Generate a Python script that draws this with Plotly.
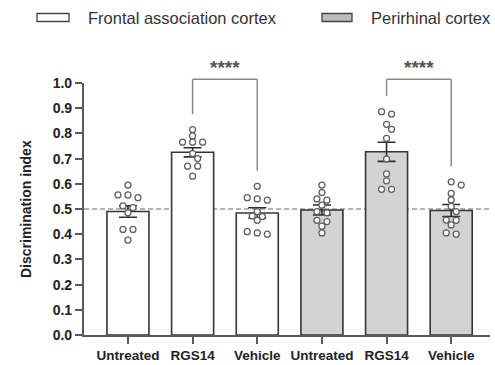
import plotly.graph_objects as go

# ---------------- data ----------------
categories = ["Untreated", "RGS14", "Vehicle"]
region_names = ["Frontal association cortex", "Perirhinal cortex"]

fac_untreated = [0.595, 0.556, 0.556, 0.545, 0.512, 0.505, 0.485, 0.419, 0.419, 0.377]
fac_rgs14 = [0.815, 0.790, 0.765, 0.765, 0.765, 0.720, 0.700, 0.670, 0.670, 0.630]
fac_vehicle = [0.590, 0.545, 0.540, 0.535, 0.490, 0.472, 0.470, 0.455, 0.410, 0.405, 0.400]

prh_untreated = [0.595, 0.565, 0.540, 0.535, 0.515, 0.490, 0.485, 0.455, 0.450, 0.432, 0.405]
prh_rgs14 = [0.886, 0.877, 0.836, 0.816, 0.780, 0.698, 0.639, 0.612, 0.578, 0.578]
prh_vehicle = [0.608, 0.595, 0.562, 0.536, 0.510, 0.490, 0.456, 0.455, 0.437, 0.405, 0.400]

fac_means = [0.490, 0.725, 0.484]
fac_sem = [0.023, 0.018, 0.021]
prh_means = [0.496, 0.727, 0.494]
prh_sem = [0.020, 0.038, 0.024]

chance_level = 0.5
y_ticks = [0.0, 0.1, 0.2, 0.3, 0.4, 0.5, 0.6, 0.7, 0.8, 0.9, 1.0]
tick_labels = categories + categories
sig_label = "****"

# ---------------- layout constants ----------------
W, H = 495, 365
ML, MR, MT, MB = 84, 5, 83, 30
PLOT_W = W - ML - MR
PLOT_H = H - MT - MB
X_RANGE = [-0.68, 5.6]
Y_RANGE = [0.0, 1.0]
px_per_x = PLOT_W / (X_RANGE[1] - X_RANGE[0])
px_per_y = PLOT_H / (Y_RANGE[1] - Y_RANGE[0])

AXIS_COLOR = "#5a5a5a"
BAR_LINE = "#353535"
GRAY_FILL = "#d3d3d3"
FONT = "Liberation Sans, Arial, sans-serif"


def x_to_paper(x):
    return (x - X_RANGE[0]) / (X_RANGE[1] - X_RANGE[0])


def y_to_paper(y):
    return (y - Y_RANGE[0]) / (Y_RANGE[1] - Y_RANGE[0])


def swarm(vals, center, step=0.155, tol=0.013, diam=6.0):
    """Simple GraphPad-like scatter placement of points around a center."""
    order = sorted(vals, reverse=True)
    rows = []
    for v in order:
        if rows and rows[-1][0] - v <= tol:
            rows[-1].append(v)
        else:
            rows.append([v])
    xs, ys, placed = [], [], []
    for row in rows:
        n = len(row)
        if n == 1:
            chosen = 0.0
            for cand in [0.0, step / 2, -step / 2, step, -step]:
                ok = all(((cand - px) * px_per_x) ** 2 + ((row[0] - py) * px_per_y) ** 2 >= diam ** 2
                         for px, py in placed)
                if ok:
                    chosen = cand
                    break
            offs = [chosen]
        else:
            offs = [(i - (n - 1) / 2) * step for i in range(n)]
        for o, v in zip(offs, row):
            placed.append((o, v))
            xs.append(center + o)
            ys.append(v)
    return xs, ys


fig = go.Figure()

groups = [
    (fac_means, fac_sem, [fac_untreated, fac_rgs14, fac_vehicle], "white", [0, 1, 2]),
    (prh_means, prh_sem, [prh_untreated, prh_rgs14, prh_vehicle], GRAY_FILL, [3, 4, 5]),
]

for means, sems, pts, fill, xpos in groups:
    fig.add_trace(go.Bar(
        x=xpos, y=means, width=0.65,
        marker=dict(color=fill, line=dict(color=BAR_LINE, width=1.6)),
        error_y=dict(type="data", array=sems, visible=True, color="#2e2e2e",
                     thickness=1.6, width=9),
        showlegend=False, hoverinfo="skip",
    ))

for means, sems, pts, fill, xpos in groups:
    for p, xc in zip(pts, xpos):
        xs, ys = swarm(p, xc)
        fig.add_trace(go.Scatter(
            x=xs, y=ys, mode="markers",
            marker=dict(symbol="circle", size=6.0, color="white",
                        line=dict(color="#5f5f5f", width=1.25)),
            showlegend=False, hoverinfo="skip",
        ))

# significance brackets (between RGS14 and Vehicle of each region), drawn in paper space
GAP = 0.062
TOP = 1.015
BR = dict(color="#8a8a8a", width=1.5)
for rg, veh, xl, xr in [(fac_rgs14, fac_vehicle, 1, 2), (prh_rgs14, prh_vehicle, 4, 5)]:
    pl, pr = x_to_paper(xl), x_to_paper(xr)
    top = y_to_paper(TOP)
    fig.add_shape(type="line", xref="paper", yref="paper", x0=pl, x1=pl,
                  y0=y_to_paper(max(rg) + GAP), y1=top, line=BR)
    fig.add_shape(type="line", xref="paper", yref="paper", x0=pl, x1=pr, y0=top, y1=top, line=BR)
    fig.add_shape(type="line", xref="paper", yref="paper", x0=pr, x1=pr,
                  y0=y_to_paper(max(veh) + GAP), y1=top, line=BR)
    fig.add_annotation(xref="paper", yref="paper", x=(pl + pr) / 2, y=y_to_paper(TOP + 0.045),
                       text=sig_label, showarrow=False,
                       font=dict(family=FONT, size=19, color="#555555", weight="bold"),
                       xanchor="center", yanchor="middle")

# chance level dashed line
fig.add_shape(type="line", xref="paper", x0=0, x1=1, yref="y", y0=chance_level, y1=chance_level,
              line=dict(color="#9a9a9a", width=1.5, dash="5px,3px"), layer="below")


# legend drawn manually (wide flat swatches)
def px2paper_x(px):
    return (px - ML) / PLOT_W


def px2paper_y(py):
    return (H - MB - py) / PLOT_H


for (x0, x1, tx), fill, name in zip([(37, 69, 86), (322, 352, 369)], ["white", "#bdbdbd"], region_names):
    fig.add_shape(type="rect", xref="paper", yref="paper",
                  x0=px2paper_x(x0), x1=px2paper_x(x1), y0=px2paper_y(21.5), y1=px2paper_y(13.5),
                  fillcolor=fill, line=dict(color="#444444", width=1.3))
    fig.add_annotation(xref="paper", yref="paper", x=px2paper_x(tx), y=px2paper_y(17.5),
                       text=name, showarrow=False, xanchor="left", yanchor="middle",
                       font=dict(family=FONT, size=16.5, color="#333333"))

# y-axis title
fig.add_annotation(xref="paper", yref="paper", x=px2paper_x(26), y=0.5, text="Discrimination index",
                   textangle=-90, showarrow=False, xanchor="center", yanchor="middle",
                   font=dict(family=FONT, size=14, color="#222222", weight="bold"))

fig.update_layout(
    width=W, height=H,
    margin=dict(l=ML, r=MR, t=MT, b=MB, autoexpand=False),
    plot_bgcolor="white", paper_bgcolor="white",
    barmode="overlay",
    font=dict(family=FONT, color="#222222"),
    showlegend=False,
)
fig.update_xaxes(
    range=X_RANGE, tickmode="array", tickvals=[0, 1, 2, 3, 4, 5], ticktext=tick_labels,
    showline=True, linecolor=AXIS_COLOR, linewidth=2.2, showgrid=False, zeroline=False,
    ticks="outside", ticklen=7, tickwidth=2.2, tickcolor=AXIS_COLOR, ticklabelstandoff=0,
    automargin=False,
    tickfont=dict(family=FONT, size=13.5, color="#222222", weight="bold"),
)
fig.update_yaxes(
    range=Y_RANGE, tickmode="array", tickvals=y_ticks, ticktext=[f"{t:.1f}" for t in y_ticks],
    showline=True, linecolor=AXIS_COLOR, linewidth=2.2, showgrid=False, zeroline=False,
    ticks="outside", ticklen=7, tickwidth=2.2, tickcolor=AXIS_COLOR,
    automargin=False,
    tickfont=dict(family=FONT, size=14, color="#222222", weight="bold"),
)

fig.write_html("out.html")
